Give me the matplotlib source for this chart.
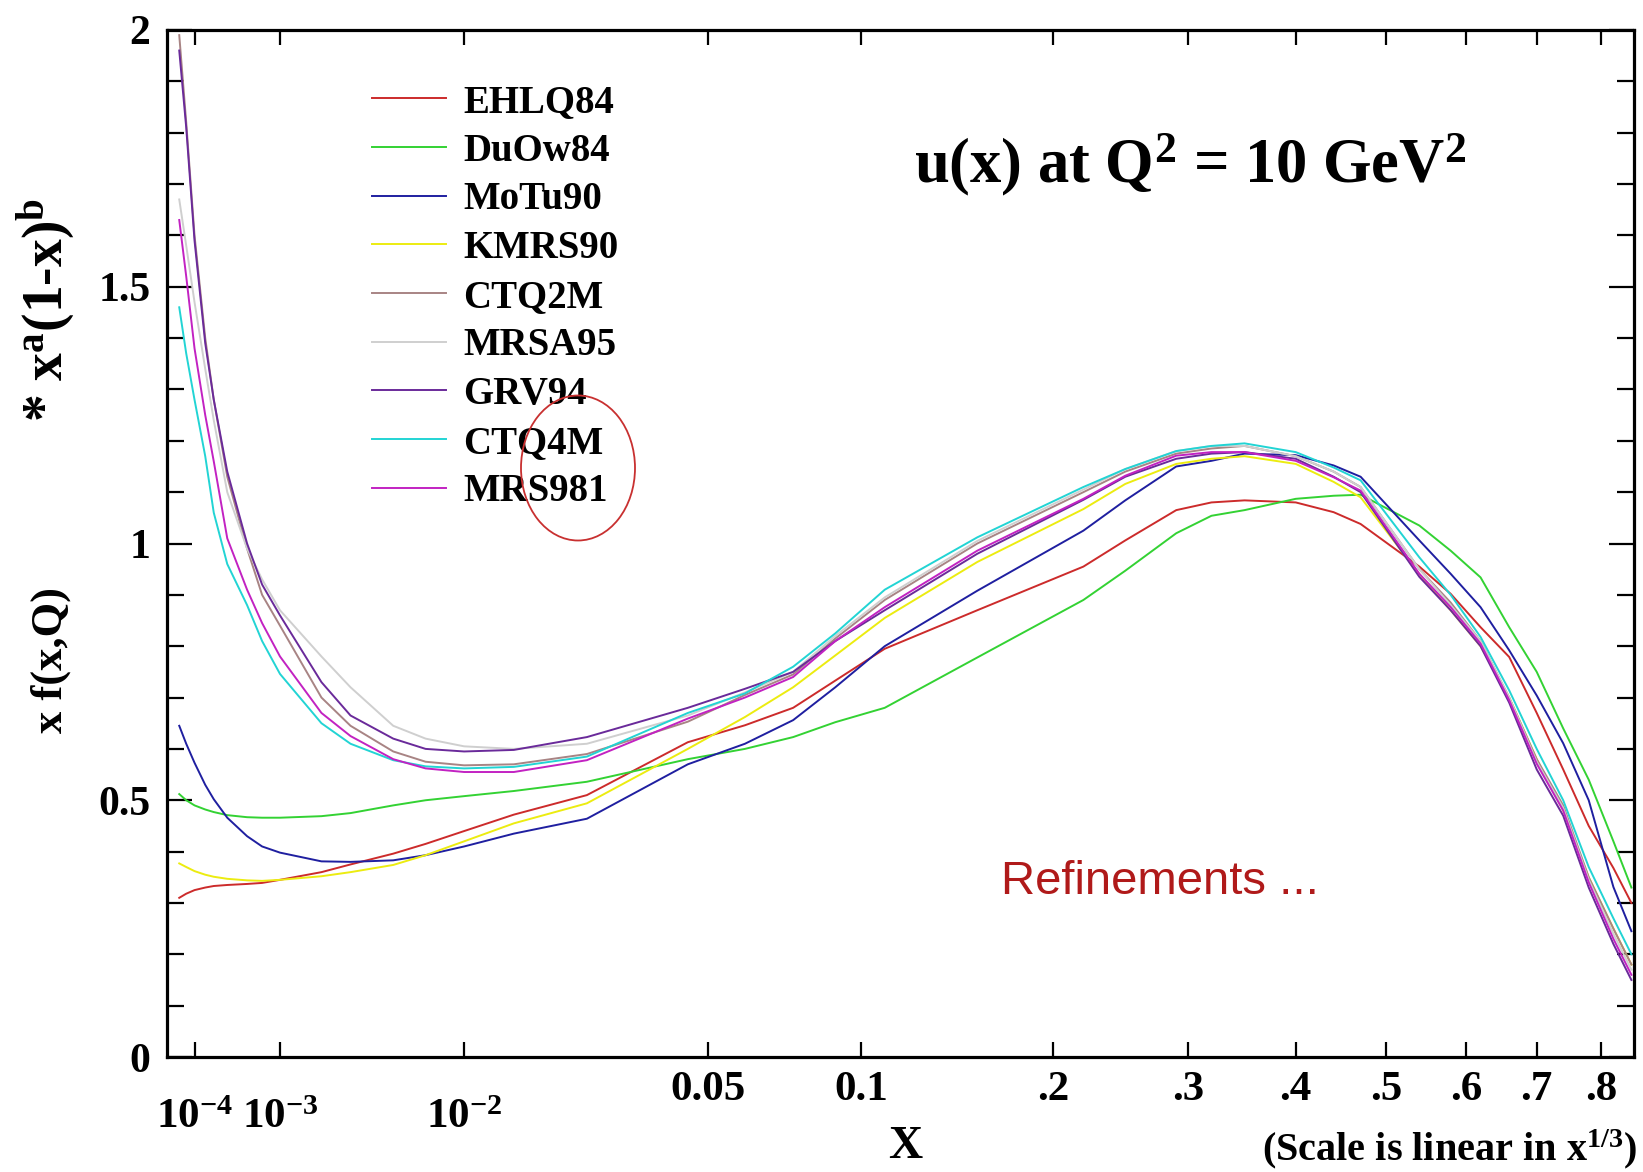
import numpy as np
import matplotlib
matplotlib.use("Agg")
import matplotlib.pyplot as plt
import matplotlib.transforms as mtrans
from matplotlib.patches import Ellipse
from matplotlib.ticker import MultipleLocator, NullLocator

plt.rcParams['font.family'] = 'Liberation Serif'
plt.rcParams['font.weight'] = 'bold'
plt.rcParams['mathtext.fontset'] = 'custom'
plt.rcParams['mathtext.rm'] = 'Liberation Serif:bold'
plt.rcParams['mathtext.it'] = 'Liberation Serif:bold'
plt.rcParams['mathtext.bf'] = 'Liberation Serif:bold'

# x grid (values at these x)
x = [5e-5, 7e-5, 1e-4, 1.5e-4, 2e-4, 3e-4, 5e-4, 7e-4, 1e-3, 2e-3, 3e-3, 5e-3, 7e-3, 1e-2,
     0.015, 0.025, 0.045, 0.06, 0.075, 0.09, 0.11, 0.155, 0.22, 0.25, 0.29, 0.32, 0.35, 0.40,
     0.44, 0.47, 0.54, 0.58, 0.62, 0.66, 0.70, 0.74, 0.78, 0.82, 0.85]

ehlq84 = [0.31, 0.318, 0.325, 0.33, 0.333, 0.335, 0.337, 0.339, 0.345, 0.36, 0.375, 0.396, 0.415, 0.44,
          0.472, 0.51, 0.613, 0.646, 0.68, 0.733, 0.795, 0.87, 0.955, 1.006, 1.065, 1.08, 1.084, 1.08,
          1.061, 1.038, 0.955, 0.902, 0.837, 0.779, 0.67, 0.56, 0.45, 0.368, 0.30]
duow84 = [0.512, 0.50, 0.49, 0.482, 0.477, 0.471, 0.467, 0.466, 0.466, 0.469, 0.475, 0.49, 0.50, 0.508,
          0.518, 0.536, 0.58, 0.60, 0.623, 0.652, 0.68, 0.778, 0.89, 0.947, 1.02, 1.054, 1.065, 1.087,
          1.093, 1.095, 1.035, 0.986, 0.934, 0.837, 0.75, 0.64, 0.54, 0.42, 0.33]
motu90 = [0.645, 0.61, 0.573, 0.53, 0.502, 0.466, 0.43, 0.41, 0.398, 0.381, 0.38, 0.383, 0.393, 0.41,
          0.435, 0.464, 0.57, 0.61, 0.656, 0.72, 0.80, 0.908, 1.025, 1.084, 1.15, 1.161, 1.175, 1.172,
          1.152, 1.13, 1.006, 0.941, 0.876, 0.792, 0.704, 0.611, 0.50, 0.331, 0.245]
kmrs90 = [0.377, 0.37, 0.362, 0.355, 0.351, 0.347, 0.344, 0.343, 0.345, 0.352, 0.36, 0.374, 0.393, 0.42,
          0.455, 0.494, 0.60, 0.662, 0.72, 0.782, 0.855, 0.964, 1.067, 1.116, 1.155, 1.165, 1.17, 1.155,
          1.12, 1.09, 0.94, 0.87, 0.80, 0.70, 0.58, 0.48, 0.35, 0.25, 0.18]
ctq2m = [1.99, 1.82, 1.60, 1.40, 1.28, 1.13, 0.99, 0.90, 0.84, 0.70, 0.645, 0.595, 0.575, 0.568,
         0.57, 0.59, 0.653, 0.705, 0.745, 0.815, 0.89, 1.0, 1.10, 1.14, 1.175, 1.185, 1.19, 1.17,
         1.14, 1.11, 0.95, 0.885, 0.81, 0.70, 0.58, 0.49, 0.35, 0.25, 0.18]
mrsa95 = [1.67, 1.58, 1.47, 1.34, 1.24, 1.10, 0.99, 0.93, 0.87, 0.78, 0.72, 0.645, 0.62, 0.605,
          0.60, 0.61, 0.665, 0.71, 0.75, 0.82, 0.895, 1.005, 1.105, 1.145, 1.18, 1.19, 1.19, 1.17,
          1.14, 1.11, 0.95, 0.88, 0.81, 0.70, 0.575, 0.485, 0.345, 0.24, 0.17]
grv94 = [1.96, 1.81, 1.59, 1.39, 1.28, 1.14, 1.0, 0.92, 0.86, 0.73, 0.665, 0.62, 0.60, 0.595,
         0.598, 0.623, 0.68, 0.717, 0.75, 0.81, 0.87, 0.98, 1.085, 1.13, 1.165, 1.175, 1.178, 1.165,
         1.13, 1.10, 0.935, 0.87, 0.80, 0.69, 0.56, 0.47, 0.33, 0.22, 0.15]
ctq4m = [1.46, 1.37, 1.28, 1.17, 1.06, 0.96, 0.88, 0.81, 0.746, 0.65, 0.61, 0.578, 0.566, 0.562,
         0.565, 0.585, 0.67, 0.708, 0.76, 0.825, 0.91, 1.012, 1.11, 1.145, 1.18, 1.19, 1.195, 1.178,
         1.148, 1.123, 0.973, 0.90, 0.818, 0.714, 0.60, 0.50, 0.37, 0.27, 0.20]
mrs981 = [1.63, 1.52, 1.38, 1.25, 1.16, 1.01, 0.91, 0.845, 0.78, 0.67, 0.625, 0.58, 0.562, 0.555,
          0.555, 0.578, 0.659, 0.70, 0.74, 0.81, 0.876, 0.986, 1.087, 1.132, 1.171, 1.178, 1.178, 1.161,
          1.129, 1.103, 0.941, 0.876, 0.805, 0.695, 0.571, 0.48, 0.34, 0.23, 0.16]

names = ['EHLQ84', 'DuOw84', 'MoTu90', 'KMRS90', 'CTQ2M', 'MRSA95', 'GRV94', 'CTQ4M', 'MRS981']
series = [ehlq84, duow84, motu90, kmrs90, ctq2m, mrsa95, grv94, ctq4m, mrs981]
colors = ['#cc2b2b', '#33d233', '#1f1fa0', '#ecec10', '#a88484', '#cfcfcf', '#6a2a9a', '#22d4d4', '#c222c2']

xticks = [1e-4, 1e-3, 1e-2, 0.05, 0.1, 0.2, 0.3, 0.4, 0.5, 0.6, 0.7, 0.8]
xticklabels = ['10$^{-4}$', '10$^{-3}$', '10$^{-2}$', '0.05', '0.1', '.2', '.3', '.4', '.5', '.6', '.7', '.8']
yticks = [0, 0.5, 1, 1.5, 2]
yticklabels = ['0', '0.5', '1', '1.5', '2']

W, H = 1643, 1172
fig = plt.figure(figsize=(W / 100, H / 100), dpi=100)
ax = fig.add_axes([167 / W, 1 - 1057 / H, (1634 - 167) / W, (1057 - 30) / H])

# scale linear in x^(1/3)
ax.set_xscale('function', functions=(lambda v: np.cbrt(v), lambda v: np.power(v, 3)))

for vals, c, n in zip(series, colors, names):
    ax.plot(x, vals, color=c, lw=1.4, label=n)

ax.set_xlim(2.48e-5, 0.8544)
ax.set_ylim(0, 2)
# the power-of-ten labels hang lower, so they are drawn as separate texts below
ax.set_xticks(xticks, [''] * 3 + xticklabels[3:])
ax.xaxis.set_minor_locator(NullLocator())
ax.set_yticks(yticks, yticklabels)
ax.yaxis.set_minor_locator(MultipleLocator(0.1))
ax.tick_params(axis='x', which='major', direction='in', top=True, length=11, width=1.6,
               labelsize=31, pad=10)
ax.tick_params(axis='y', which='major', direction='in', right=True, length=18, width=1.6,
               labelsize=30, pad=12)
ax.tick_params(axis='y', which='minor', direction='in', right=True, length=12.5, width=1.6)
for sp in ax.spines.values():
    sp.set_linewidth(2.3)

low = ax.get_xaxis_transform() + mtrans.ScaledTranslation(0, -51 / 72, fig.dpi_scale_trans)
for xv, lab in zip(xticks[:3], xticklabels[:3]):
    ax.text(xv, 0, lab, transform=low, ha='center', va='baseline', fontsize=31)

ax.legend(loc='upper left', bbox_to_anchor=(372 / W, 1 - 84 / H), bbox_transform=fig.transFigure,
          frameon=False, fontsize=28, handlelength=1.9, handletextpad=0.45, labelspacing=0.30,
          borderpad=0, borderaxespad=0)

fig.text(1190 / W, 1 - 165 / H, 'u(x) at Q$^{2}$ = 10 GeV$^{2}$', fontsize=45, ha='center', va='center')
fig.text(1160 / W, 1 - 882 / H, 'Refinements ...', fontsize=34, ha='center', va='center',
         family='Liberation Sans', weight='normal', color='#b01a1a')

fig.text(62 / W, 1 - 660 / H, 'x f(x,Q)', fontsize=32, rotation=90, rotation_mode='anchor',
         ha='center', va='baseline')
fig.text(62 / W, 1 - 310 / H, r'* x$^{a}$(1-x)$^{b}$', fontsize=40, rotation=90, rotation_mode='anchor',
         ha='center', va='baseline')

fig.text(905 / W, 1 - 1147 / H, 'X', fontsize=34, ha='center', va='center')
fig.text(1450 / W, 1 - 1160 / H, '(Scale is linear in x$^{1/3}$)', fontsize=29, ha='center', va='baseline')

fig.add_artist(Ellipse((578 / W, 1 - 468 / H), 114 / W, 145 / H, transform=fig.transFigure,
                       fill=False, ec='#c83030', lw=1.3))

fig.savefig('out.png', dpi=100)
